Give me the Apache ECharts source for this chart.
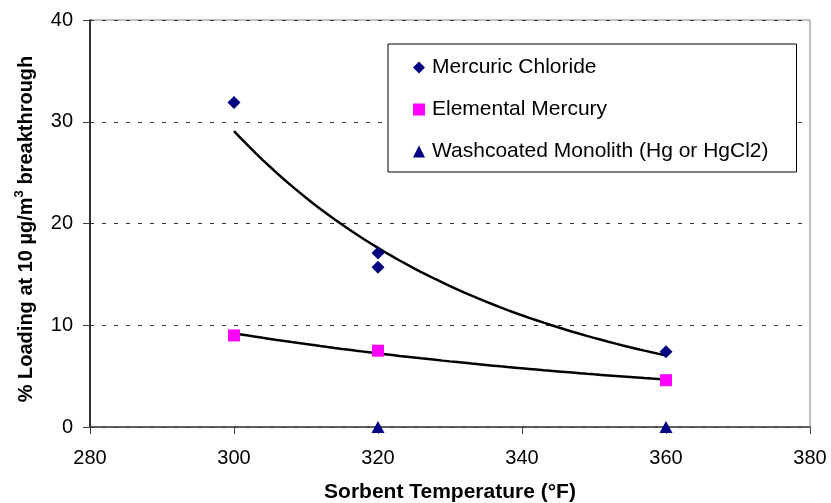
<!DOCTYPE html>
<html>
<head>
<meta charset="utf-8">
<script src="https://cdn.jsdelivr.net/npm/echarts@6/dist/echarts.min.js"></script>
<style>
  html, body { margin: 0; padding: 0; background: #fff; }
  #chart { width: 831px; height: 503px; }
</style>
</head>
<body>
<div id="chart"></div>
<script>
// Sorbent temperature (°F) and % loading at 10 µg/m3 breakthrough
const chlorideTemp = [300, 320, 320, 360];
const chlorideLoad = [31.9, 17.1, 15.7, 7.4];
const elementalTemp = [300, 320, 360];
const elementalLoad = [9.0, 7.5, 4.6];
const monolithTemp = [320, 360];
const monolithLoad = [0, 0];

const seriesNames = ['Mercuric Chloride', 'Elemental Mercury', 'Washcoated Monolith (Hg or HgCl2)'];
const xTicks = [280, 300, 320, 340, 360, 380];
const yTicks = [0, 10, 20, 30, 40];

// Power-law trendline y = a * x^b, least squares on log-log values
function powerFit(xs, ys) {
  const lx = xs.map(Math.log), ly = ys.map(Math.log);
  const n = xs.length;
  const mx = lx.reduce((s, v) => s + v, 0) / n;
  const my = ly.reduce((s, v) => s + v, 0) / n;
  let sxy = 0, sxx = 0;
  for (let i = 0; i < n; i++) {
    sxy += (lx[i] - mx) * (ly[i] - my);
    sxx += (lx[i] - mx) * (lx[i] - mx);
  }
  const b = sxy / sxx;
  const a = Math.exp(my - b * mx);
  const lo = Math.min(...xs), hi = Math.max(...xs);
  const pts = [];
  for (let x = lo; x <= hi; x += 1) pts.push([x, a * Math.pow(x, b)]);
  return pts;
}

const pairs = (xs, ys) => xs.map((x, i) => [x, ys[i]]);

const font = 'Liberation Sans, Arial, sans-serif';
const chart = echarts.init(document.getElementById('chart'), null, { renderer: 'canvas' });

chart.setOption({
  backgroundColor: '#ffffff',
  animation: false,
  textStyle: { fontFamily: font, color: '#000' },
  grid: {
    left: 90, right: 21, top: 20, bottom: 76,
    containLabel: false, outerBoundsMode: 'none',
    show: true, borderColor: '#808080', borderWidth: 1, backgroundColor: 'transparent'
  },
  legend: {
    data: seriesNames,
    orient: 'vertical',
    left: 388, top: 44,
    padding: [13, 28, 10, 25],
    itemGap: 21,
    itemWidth: 12, itemHeight: 12,
    backgroundColor: '#ffffff',
    borderColor: '#000000', borderWidth: 1,
    textStyle: { fontFamily: font, fontSize: 21, color: '#000', lineHeight: 20, padding: [0, 0, 0, 2] }
  },
  xAxis: {
    type: 'value',
    min: xTicks[0], max: xTicks[xTicks.length - 1], interval: 20,
    name: 'Sorbent Temperature (°F)',
    nameLocation: 'middle', nameGap: 55,
    nameTextStyle: { fontFamily: font, fontSize: 21, fontWeight: 'bold', color: '#000' },
    axisLine: { show: true, onZero: false, lineStyle: { color: '#404040', width: 1.5 } },
    axisTick: { show: true, inside: false, length: 7, lineStyle: { color: '#404040' } },
    axisLabel: { fontFamily: font, fontSize: 20, color: '#000', margin: 21 },
    splitLine: { show: false }
  },
  yAxis: {
    type: 'value',
    min: yTicks[0], max: yTicks[yTicks.length - 1], interval: 10,
    name: '% Loading at 10 µg/m{sup|3} breakthrough',
    nameLocation: 'middle', nameGap: 51, nameRotate: 90,
    nameTextStyle: {
      fontFamily: font, fontSize: 20, fontWeight: 'bold', color: '#000', lineHeight: 26,
      padding: [0, 11, 0, 0],
      rich: { sup: { fontFamily: font, fontSize: 13, fontWeight: 'bold', color: '#000', verticalAlign: 'top', lineHeight: 26 } }
    },
    axisLine: { show: true, lineStyle: { color: '#000', width: 1.5 } },
    axisTick: { show: true, inside: false, length: 7, lineStyle: { color: '#404040' } },
    axisLabel: { fontFamily: font, fontSize: 20, color: '#000', margin: 17 },
    splitLine: { show: true, lineStyle: { color: '#333', type: [4, 8], width: 1 } }
  },
  series: [
    {
      name: 'chlorideTrend', type: 'line', data: powerFit(chlorideTemp, chlorideLoad),
      showSymbol: false, symbol: 'none', lineStyle: { color: '#000', width: 2.5 }, z: 2, silent: true
    },
    {
      name: 'elementalTrend', type: 'line', data: powerFit(elementalTemp, elementalLoad),
      showSymbol: false, symbol: 'none', lineStyle: { color: '#000', width: 2.5 }, z: 2, silent: true
    },
    {
      name: seriesNames[0], type: 'scatter', data: pairs(chlorideTemp, chlorideLoad),
      symbol: 'diamond', symbolSize: 13, itemStyle: { color: '#000080', opacity: 1 }, z: 3
    },
    {
      name: seriesNames[1], type: 'scatter', data: pairs(elementalTemp, elementalLoad),
      symbol: 'rect', symbolSize: 12, itemStyle: { color: '#ff00ff', opacity: 1 }, z: 3
    },
    {
      name: seriesNames[2], type: 'scatter', data: pairs(monolithTemp, monolithLoad),
      symbol: 'triangle', symbolSize: [13, 12], itemStyle: { color: '#000080', opacity: 1 }, z: 4
    }
  ]
});
</script>
</body>
</html>
